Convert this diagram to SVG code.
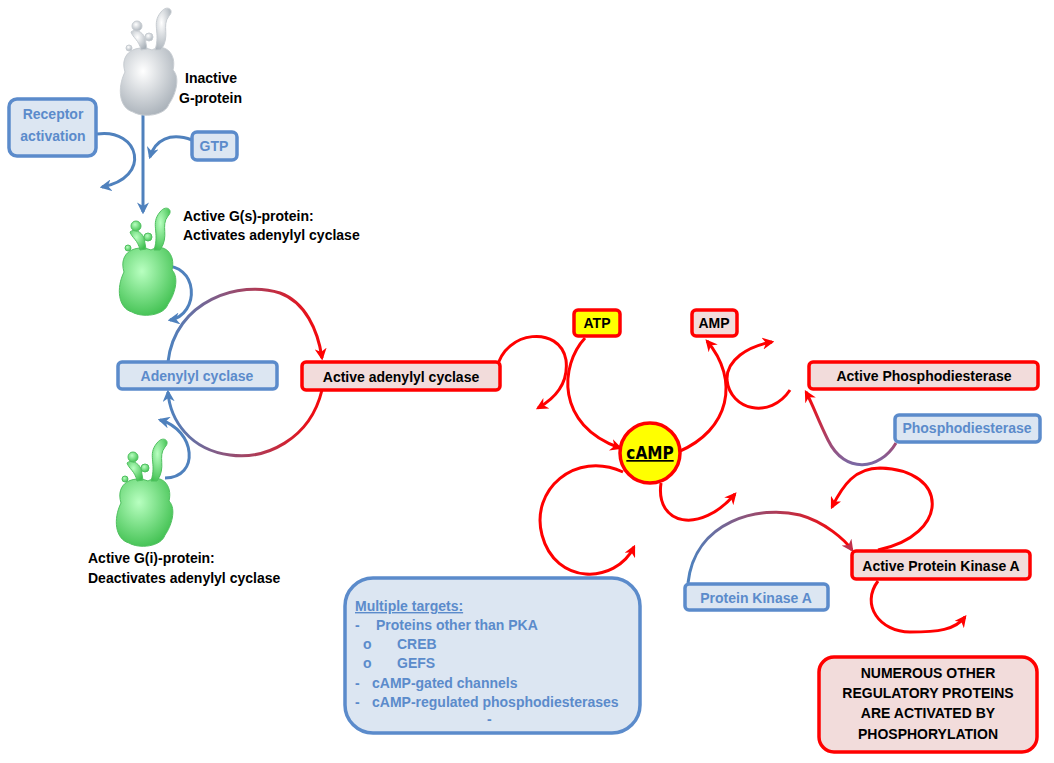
<svg xmlns="http://www.w3.org/2000/svg" width="1054" height="763" viewBox="0 0 1054 763">
<defs>
<style>
.bb{fill:#DCE6F2;stroke:#5B8BCB;stroke-width:3.5}
.rb{fill:#F2DCDB;stroke:#FF0000;stroke-width:3.5}
.bt{font-family:"Liberation Sans",Arial,sans-serif;font-weight:bold;font-size:14px;fill:#5B8BCB}
.kt{font-family:"Liberation Sans",Arial,sans-serif;font-weight:bold;font-size:14px;fill:#000}
.bl{fill:none;stroke:#4F81BD;stroke-width:3}
.rl{fill:none;stroke:#FF0000;stroke-width:3}
</style>
<marker id="ab" viewBox="0 0 10 10" refX="8" refY="5" markerWidth="4" markerHeight="4" orient="auto-start-reverse"><path d="M0,0L10,5L0,10L3,5z" fill="#4F81BD"/></marker>
<marker id="ar" viewBox="0 0 10 10" refX="8" refY="5" markerWidth="4" markerHeight="4" orient="auto-start-reverse"><path d="M0,0L10,5L0,10L3,5z" fill="#FF0000"/></marker>
<marker id="ap" viewBox="0 0 10 10" refX="8" refY="5" markerWidth="4" markerHeight="4" orient="auto"><path d="M0,0L10,5L0,10L3,5z" fill="#C0304A"/></marker>
<linearGradient id="g1" gradientUnits="userSpaceOnUse" x1="170" y1="0" x2="330" y2="0"><stop offset="0" stop-color="#4F81BD"/><stop offset="1" stop-color="#FF0000"/></linearGradient>
<linearGradient id="g2" gradientUnits="userSpaceOnUse" x1="690" y1="0" x2="850" y2="0"><stop offset="0" stop-color="#4F81BD"/><stop offset="1" stop-color="#FF0000"/></linearGradient>
<linearGradient id="g3" gradientUnits="userSpaceOnUse" x1="0" y1="470" x2="0" y2="392"><stop offset="0" stop-color="#7070B0"/><stop offset="1" stop-color="#FF0000"/></linearGradient>
<radialGradient id="gw" cx="0.4" cy="0.35" r="0.7"><stop offset="0" stop-color="#FFFFFF"/><stop offset="1" stop-color="#A8B0B8"/></radialGradient>
<radialGradient id="gg" cx="0.4" cy="0.35" r="0.7"><stop offset="0" stop-color="#B8FFC0"/><stop offset="1" stop-color="#40C050"/></radialGradient>
<g id="blob">
<path d="M-22,-10 C-28,-30 -10,-38 5,-32 C18,-40 30,-28 26,-12 C34,-4 28,14 22,22 C18,34 -4,36 -14,30 C-28,26 -30,6 -22,-10z"/>
<path d="M8,-32 C14,-50 4,-58 14,-70 C20,-78 28,-72 22,-66 C14,-56 24,-46 14,-32z"/>
<path d="M-6,-32 C-8,-42 -14,-44 -16,-50 C-12,-54 -4,-50 -2,-44 L0,-33z"/>
<circle cx="2" cy="-45" r="4"/><circle cx="-18" cy="-34" r="3"/><circle cx="-10" cy="-56" r="5"/>
</g>
</defs>
<rect width="1054" height="763" fill="#fff"/>

<g id="connectors">
<path class="bl" d="M143,110 V212" marker-end="url(#ab)"/>
<path class="bl" d="M97,134 C140,128 152,178 102,187" marker-end="url(#ab)"/>
<path class="bl" d="M192,140 C170,132 155,140 150,157" marker-end="url(#ab)"/>
<path class="bl" d="M160,266 C200,262 200,315 170,320" marker-end="url(#ab)"/>
<path class="bl" d="M165,478 C200,478 196,430 160,420" marker-end="url(#ab)"/>
<path fill="none" stroke="url(#g1)" stroke-width="3" d="M168,362 C175,300 240,280 280,293 C305,302 318,330 322,358" marker-end="url(#ar)"/>
<path fill="none" stroke="url(#g1)" stroke-width="3" d="M322,390 C310,440 265,460 230,455 C190,450 170,420 168,392" marker-end="url(#ab)"/>
<path class="rl" d="M497,368 C505,330 560,325 566,360 C569,385 552,400 538,408" marker-end="url(#ar)"/>
<path class="rl" d="M585,338 C560,365 555,425 620,448" marker-end="url(#ar)"/>
<path class="rl" d="M678,452 C730,430 740,380 707,341" marker-end="url(#ar)"/>
<path class="rl" d="M790,390 C770,420 730,410 727,380 C726,360 748,346 772,342" marker-end="url(#ar)"/>
<path fill="none" stroke="url(#g3)" stroke-width="3" d="M896,443 C880,470 845,475 828,440 C818,420 813,405 806,392" marker-end="url(#ar)"/>
<path class="rl" d="M878,550 C950,535 950,470 880,468 C855,468 843,485 832,507" marker-end="url(#ar)"/>
<path class="rl" d="M661,483 C655,525 700,535 735,494" marker-end="url(#ar)"/>
<path fill="none" stroke="url(#g2)" stroke-width="3" d="M688,583 C695,520 760,505 800,515 C825,522 845,540 852,550" marker-end="url(#ap)"/>
<path class="rl" d="M623,472 C575,450 530,490 542,535 C555,585 615,585 634,547" marker-end="url(#ar)"/>
<path class="rl" d="M878,581 C860,605 880,632 910,632 C938,632 955,630 965,617" marker-end="url(#ar)"/>
</g>

<g id="inactive-g"><use href="#blob" transform="translate(147,82)" fill="url(#gw)" stroke="#C8CDD2"/>
<text class="kt" x="185" y="83">Inactive</text><text class="kt" x="179" y="103">G-protein</text></g>
<g id="receptor"><rect class="bb" x="9" y="99" width="87" height="57" rx="8"/>
<text class="bt" x="53" y="119" text-anchor="middle">Receptor</text><text class="bt" x="53" y="141" text-anchor="middle">activation</text></g>
<g id="gtp"><rect class="bb" x="192" y="132" width="45" height="28" rx="5"/><text class="bt" x="214" y="151" text-anchor="middle">GTP</text></g>
<g id="gs"><use href="#blob" transform="translate(146,282)" fill="url(#gg)" stroke="#50C060"/>
<text class="kt" x="183" y="221">Active G(s)-protein:</text><text class="kt" x="183" y="240">Activates adenylyl cyclase</text></g>
<g id="gi"><use href="#blob" transform="translate(143,513)" fill="url(#gg)" stroke="#50C060"/>
<text class="kt" x="88" y="563">Active  G(i)-protein:</text><text class="kt" x="88" y="583">Deactivates adenylyl cyclase</text></g>
<g id="ac"><rect class="bb" x="118" y="362" width="159" height="27" rx="4"/><text class="bt" x="197" y="381" text-anchor="middle">Adenylyl cyclase</text></g>
<g id="aac"><rect class="rb" x="302" y="362" width="198" height="28" rx="4"/><text class="kt" x="401" y="382" text-anchor="middle">Active adenylyl cyclase</text></g>
<g id="atp"><rect x="574" y="310" width="46" height="26" rx="4" fill="#FFFF00" stroke="#FF0000" stroke-width="3.5"/><text class="kt" x="597" y="328" text-anchor="middle">ATP</text></g>
<g id="amp"><rect class="rb" x="692" y="310" width="45" height="26" rx="4"/><text class="kt" x="714" y="328" text-anchor="middle">AMP</text></g>
<g id="camp"><circle cx="650" cy="453" r="30" fill="#FFFF00" stroke="#FF0000" stroke-width="3.5"/>
<text x="650" y="459" text-anchor="middle" font-family="'DejaVu Sans Condensed','Liberation Sans',sans-serif" font-weight="bold" font-size="17" text-decoration="underline">cAMP</text></g>
<g id="apde"><rect class="rb" x="809" y="362" width="229" height="27" rx="4"/><text class="kt" x="924" y="381" text-anchor="middle">Active Phosphodiesterase</text></g>
<g id="pde"><rect class="bb" x="895" y="415" width="145" height="27" rx="4"/><text class="bt" x="967" y="433" text-anchor="middle">Phosphodiesterase</text></g>
<g id="apka"><rect class="rb" x="852" y="551" width="178" height="28" rx="4"/><text class="kt" x="941" y="571" text-anchor="middle">Active Protein Kinase A</text></g>
<g id="pka"><rect class="bb" x="685" y="584" width="143" height="26" rx="4"/><text class="bt" x="756" y="603" text-anchor="middle">Protein Kinase A</text></g>
<g id="targets"><rect class="bb" x="345" y="578" width="295" height="155" rx="28"/>
<text class="bt" x="355" y="611" font-size="19" text-decoration="underline">Multiple targets:</text>
<text class="bt" x="355" y="630">-</text><text class="bt" x="376" y="630">Proteins other than PKA</text>
<text class="bt" x="363" y="649" font-weight="normal">o</text><text class="bt" x="397" y="649">CREB</text>
<text class="bt" x="363" y="668" font-weight="normal">o</text><text class="bt" x="397" y="668">GEFS</text>
<text class="bt" x="355" y="688">-</text><text class="bt" x="372" y="688">cAMP-gated channels</text>
<text class="bt" x="355" y="707">-</text><text class="bt" x="372" y="707">cAMP-regulated phosphodiesterases</text>
<text class="bt" x="487" y="724">-</text></g>
<g id="numerous"><rect class="rb" x="819" y="657" width="218" height="95" rx="15"/>
<text class="kt" x="928" y="678" text-anchor="middle">NUMEROUS OTHER</text>
<text class="kt" x="928" y="698" text-anchor="middle">REGULATORY PROTEINS</text>
<text class="kt" x="928" y="718" text-anchor="middle">ARE ACTIVATED BY</text>
<text class="kt" x="928" y="739" text-anchor="middle">PHOSPHORYLATION</text></g>
</svg>
